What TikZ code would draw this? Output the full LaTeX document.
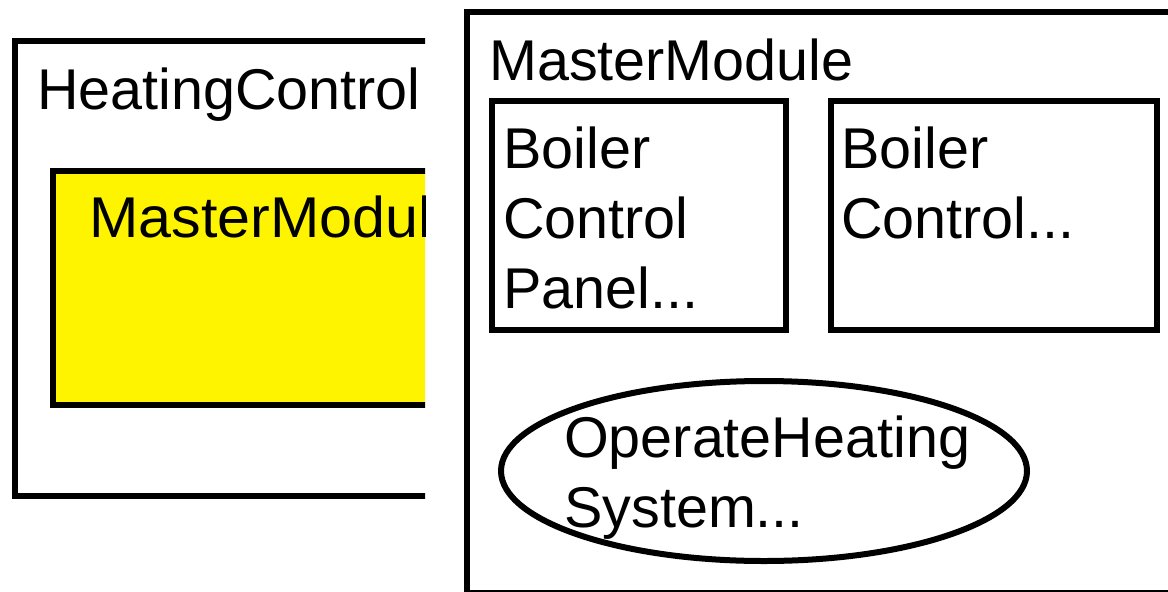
\documentclass[tikz,border=0pt]{standalone}
\usepackage{fontspec}
\setmainfont{Liberation Sans}
\usetikzlibrary{shapes.geometric}
\definecolor{partfill}{RGB}{255,244,0}
\tikzset{
  frame/.style={draw=black, line width=6pt, rectangle, inner sep=0pt, outer sep=0pt, anchor=north west},
  usecase/.style={draw=black, line width=6pt, ellipse, inner sep=0pt, outer sep=0pt},
  label/.style={inner sep=0pt, anchor=base west, font=\fontsize{57.5}{70}\selectfont},
}
\begin{document}
\begin{tikzpicture}[x=1pt, y=-1pt]
  \useasboundingbox (0,0) rectangle (1168,592);
  \clip (0,0) rectangle (1168,592);

  % left diagram, cut off at its right side
  \begin{scope}
    \clip (0,0) rectangle (425,592);
    \node[frame, minimum width=500pt, minimum height=455pt] (hc) at (14.5,41) {};
    \node[frame, fill=partfill, minimum width=460pt, minimum height=234pt] (mmpart) at (53,171) {};
    \node[label] (hctitle) at (37,109) {HeatingControl};
    \node[label, xscale=1.03] (mmpartlabel) at (89,237) {MasterModule};
  \end{scope}

  % right diagram
  \node[frame, minimum width=760pt, minimum height=581pt] (mm) at (467,12) {};
  \node[label] (mmtitle) at (489,80) {MasterModule};

  \node[frame, minimum width=294pt, minimum height=229pt] (bcp) at (492,101) {};
  \node[label] (bcplabel) at (503,168) {\vtop{\hbox{Boiler}\hbox{Control}\hbox{Panel...}}};

  \node[frame, minimum width=326pt, minimum height=229pt] (bc) at (831,101) {};
  \node[label] (bclabel) at (841,168) {\vtop{\hbox{Boiler}\hbox{Control...}}};

  \node[usecase, minimum width=526pt, minimum height=180pt] (ohs) at (764,471) {};
  \node[label] (ohslabel) at (564,457) {\vtop{\hbox{OperateHeating}\hbox{System...}}};
\end{tikzpicture}
\end{document}
